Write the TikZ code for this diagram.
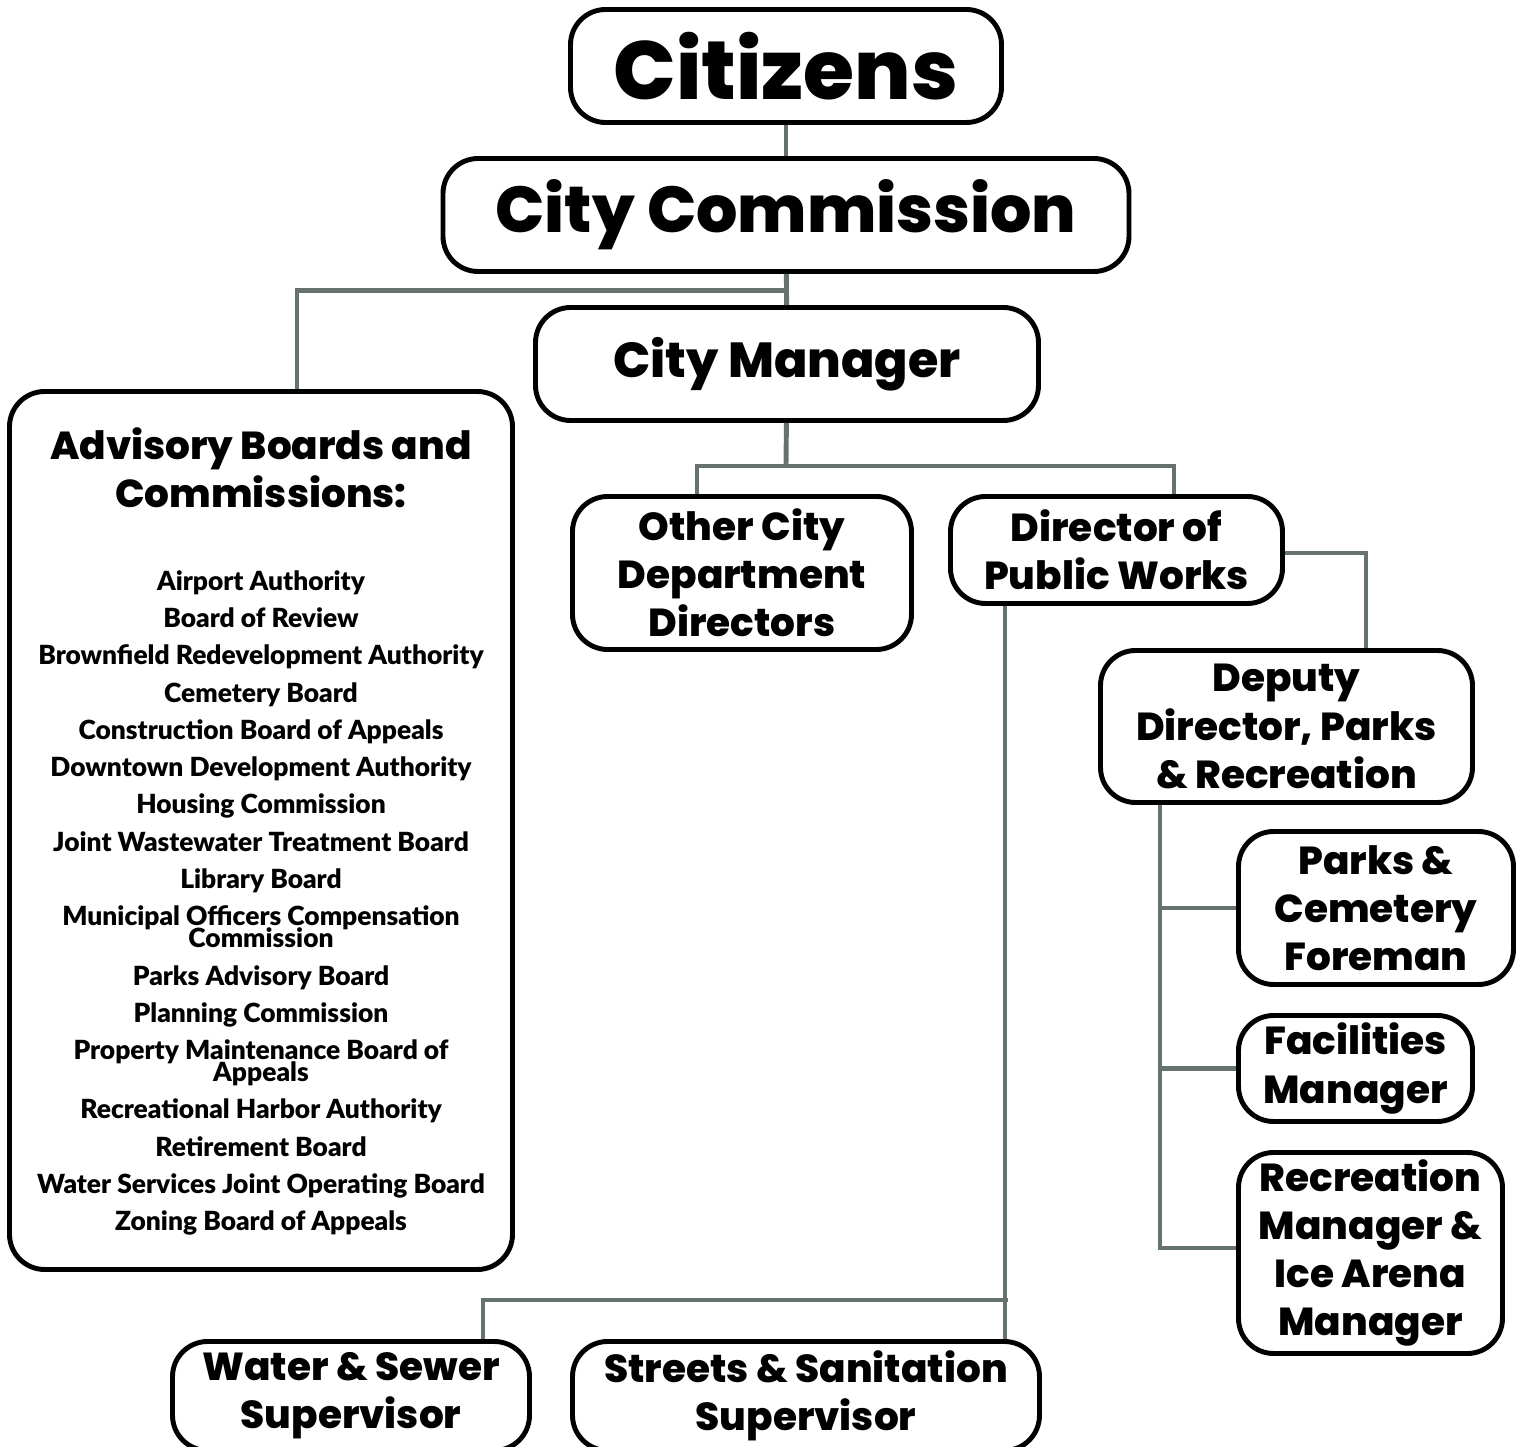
\documentclass[tikz,border=0pt]{standalone}
\usepackage{fontspec}
\setmainfont{Lato}
\newfontfamily\heavyfont{Poppins ExtraBold}
\newfontfamily\listfont{Lato Black}
\usepackage{tikz}

\definecolor{linkgray}{RGB}{101,115,108}

\tikzset{
    box/.style = {draw, line width=1.4pt, rounded corners=10pt, align=center,
                  inner sep=0pt, font=\heavyfont\fontsize{11.1}{13.7}\selectfont},
    link/.style = {draw=linkgray, line width=1.4pt}
}

\begin{document}
\begin{tikzpicture}
        \useasboundingbox (0,0) rectangle (15.26,-14.47);

        % top of the chart
        \node[box, minimum width=4.31cm, minimum height=1.13cm, font=\heavyfont\fontsize{23.5}{28}\selectfont] (cit) at (7.86,-0.66) {Citizens};
        \node[box, minimum width=6.86cm, minimum height=1.13cm, font=\heavyfont\fontsize{18.5}{24}\selectfont] (com) at (7.86,-2.15) {City Commission};
        \node[box, minimum width=5.03cm, minimum height=1.13cm, font=\heavyfont\fontsize{14}{18}\selectfont] (man) at (7.87,-3.64) {City Manager};

        % advisory boards
        \node[box, minimum width=5.03cm, minimum height=8.78cm] (adv) at (2.61,-8.305) {};
        \node[font=\heavyfont\fontsize{11.1}{13.7}\selectfont, align=center] (advhead) at (2.61,-4.68) {Advisory Boards and\\Commissions:};
        \node[font=\listfont\fontsize{7.5}{10.6}\selectfont, align=center] (advlist) at (2.61,-9.03) {
            Airport Authority\\ Board of Review\\ Brownfield Redevelopment Authority\\
            Cemetery Board\\ Construction Board of Appeals\\ Downtown Development Authority\\
            Housing Commission\\ Joint Wastewater Treatment Board\\ Library Board\\
            Municipal Officers Compensation\\[-4.3pt] Commission\\ Parks Advisory Board\\
            Planning Commission\\ Property Maintenance Board of\\[-4.3pt] Appeals\\
            Recreational Harbor Authority\\ Retirement Board\\
            Water Services Joint Operating Board\\ Zoning Board of Appeals};

        % departments
        \node[box, minimum width=3.39cm, minimum height=1.53cm] (oth) at (7.42,-5.73) {Other City\\Department\\Directors};
        \node[box, minimum width=3.32cm, minimum height=1.07cm] (dpw) at (11.165,-5.50) {Director of\\Public Works};
        \node[box, minimum width=3.72cm, minimum height=1.52cm] (dep) at (12.865,-7.265) {Deputy\\Director, Parks\\\& Recreation};
        \node[box, minimum width=2.75cm, minimum height=1.53cm] (par) at (13.76,-9.08) {Parks \&\\Cemetery\\Foreman};
        \node[box, minimum width=2.34cm, minimum height=1.06cm] (fac) at (13.555,-10.685) {Facilities\\Manager};
        \node[box, minimum width=2.64cm, minimum height=2.01cm] (rec) at (13.705,-12.53) {Recreation\\Manager \&\\Ice Arena\\Manager};
        \node[box, minimum width=3.57cm, minimum height=1.09cm] (wat) at (3.51,-13.96) {Water \& Sewer\\Supervisor};
        \node[box, minimum width=4.67cm, minimum height=1.09cm] (str) at (8.06,-13.96) {Streets \& Sanitation\\Supervisor};

        \coordinate (mfork) at (7.86,-4.66);
        \coordinate (pwfork) at (10.08,-13.0);

        % connectors
        \draw[link] (cit) -- (com);
        \draw[link] (com) -- (man);
        \draw[link] ([yshift=-0.17cm]com.south) -| ([xshift=0.36cm]adv.north);
        \draw[link] (man) -- (mfork);
        \draw[link] ([xshift=-0.45cm]oth.north) |- (mfork) -| ([xshift=0.575cm]dpw.north);
        \draw[link] ([yshift=-0.03cm]dpw.east) -| ([xshift=0.795cm]dep.north);
        \draw[link] ([xshift=-1.115cm]dpw.south) -- ([xshift=-1.115cm]dpw.south |- str.north);
        \draw[link] ([xshift=1.32cm]wat.north) |- (pwfork);
        \draw[link] ([xshift=-1.265cm]dep.south) |- (par.west);
        \draw[link] ([xshift=-1.265cm]dep.south) |- (fac.west);
        \draw[link] ([xshift=-1.265cm]dep.south) |- ([yshift=0.05cm]rec.west);
    \end{tikzpicture}
\end{document}
